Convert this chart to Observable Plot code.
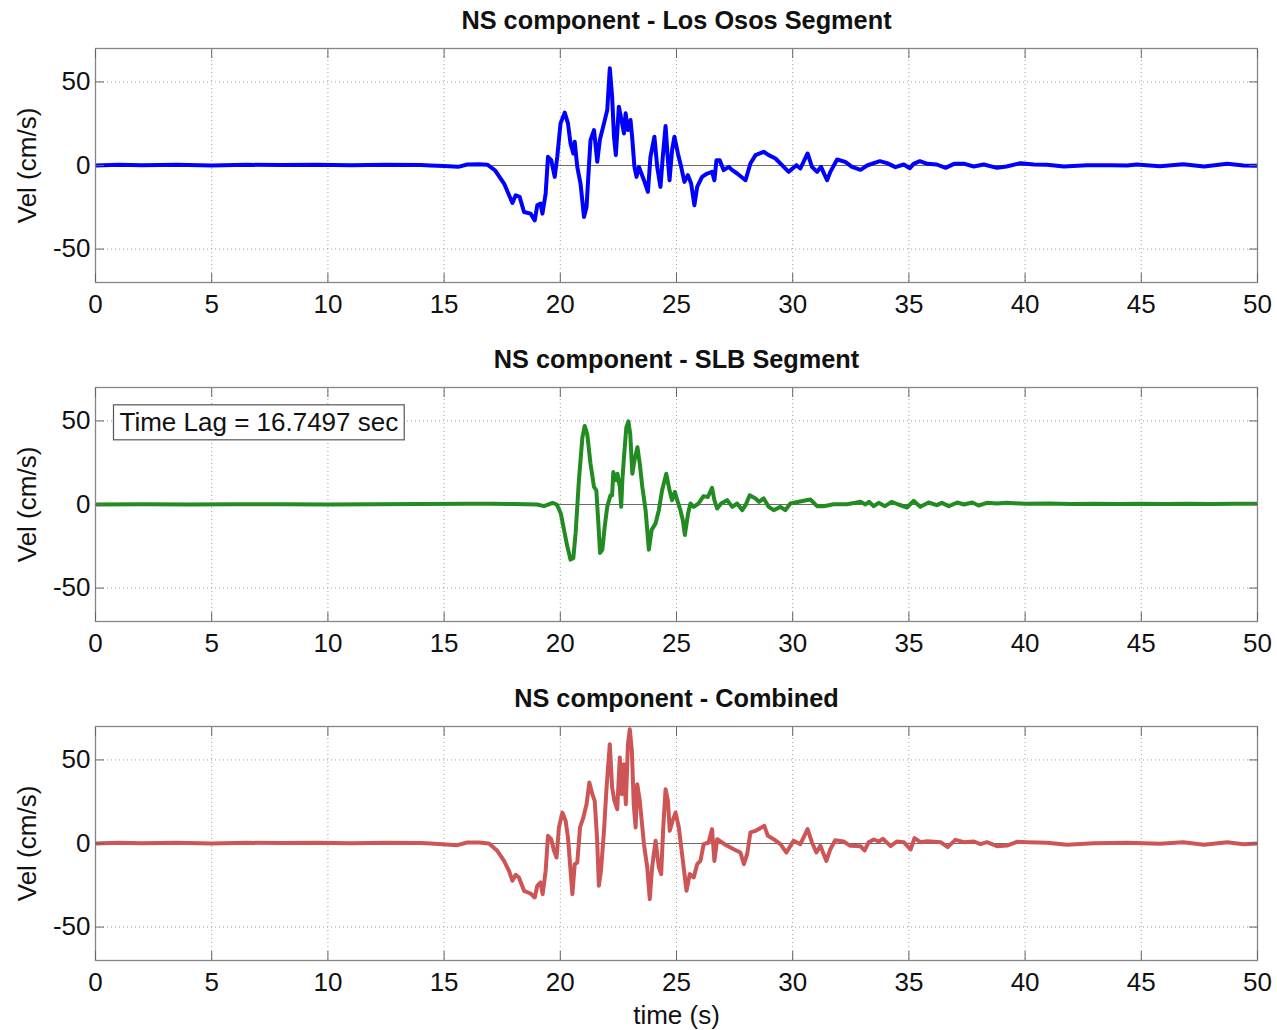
<!DOCTYPE html>
<html>
<head>
<meta charset="utf-8">
<script src="https://cdn.jsdelivr.net/npm/d3@7"></script>
<script src="https://cdn.jsdelivr.net/npm/@observablehq/plot@0.6"></script>
<style>
  body { margin: 0; background: #fff; }
  #chart { width: 1277px; }
  #chart svg { display: block; }
</style>
</head>
<body>
<div id="chart"></div>
<script>
// ---- Data ----
const timeTicks = [0, 5, 10, 15, 20, 25, 30, 35, 40, 45, 50];
const velTicks = [-50, 0, 50];
const panelTitles = ["NS component - Los Osos Segment", "NS component - SLB Segment", "NS component - Combined"];
const timeLagLabel = "Time Lag = 16.7497 sec";
const xLabel = "time (s)";
const yLabel = "Vel (cm/s)";

// [time (s), velocity (cm/s)]
const losOsos = [[0,0],[1,0.4],[2,0.2],[3.5,0.5],[5,0],[6.5,0.4],[8,0.3],[9.5,0.5],[11,0.2],[12.5,0.5],[14,0.3],[14.4,0],[15,-0.3],[15.6,-0.8],[16,0.6],[16.5,0.8],[16.86,0.5],[17.2,-3],[17.58,-10.8],[17.94,-22.4],[18.08,-17.8],[18.25,-18.8],[18.44,-27.8],[18.72,-28.8],[18.9,-32.8],[19.01,-23.8],[19.15,-22.8],[19.23,-28.8],[19.37,-16.8],[19.47,5.2],[19.61,3.2],[19.76,-6.8],[19.87,5.2],[20.01,25.2],[20.19,31.6],[20.33,25.2],[20.44,13.2],[20.56,7.2],[20.62,14.2],[20.73,-0.8],[20.87,-10.8],[21.02,-30.8],[21.13,-24.8],[21.23,-0.8],[21.3,15.2],[21.45,21.2],[21.59,2.2],[21.7,15.2],[21.88,25.2],[22.02,33.2],[22.13,58.2],[22.23,41.2],[22.31,17.2],[22.39,6.2],[22.52,35.2],[22.62,28.2],[22.74,19.2],[22.81,31.2],[22.91,21.2],[23.02,27.2],[23.09,17.2],[23.19,-0.8],[23.28,-6.8],[23.38,-0.8],[23.6,-8.8],[23.77,-15.8],[23.88,5.2],[24.05,17.2],[24.17,-0.8],[24.31,-12.8],[24.41,5.2],[24.53,23.6],[24.62,5.2],[24.7,-8.8],[24.81,9.2],[24.91,17.2],[25.06,7.2],[25.2,-0.8],[25.34,-9.8],[25.49,-5.8],[25.63,-10.8],[25.77,-23.8],[25.89,-12.8],[26.1,-6.8],[26.32,-4.8],[26.53,-3.8],[26.63,-8.8],[26.72,3.2],[26.86,3.2],[27.03,-2.8],[27.25,-0.8],[27.4,-2.8],[27.61,-4.8],[27.97,-8.8],[28.18,1.2],[28.4,6.2],[28.75,8.2],[28.97,6.2],[29.26,4.2],[29.54,0.2],[29.83,-3.8],[30.16,0.2],[30.33,-1.8],[30.64,7.2],[30.83,-0.8],[31.05,-3.8],[31.22,-0.8],[31.48,-8.8],[31.62,-3.8],[31.91,3.6],[32.26,2.2],[32.55,-0.8],[32.92,-2.6],[33.2,0],[33.49,1.4],[33.75,2.6],[34.06,1.4],[34.42,-1],[34.78,0.6],[35.04,-1.6],[35.2,1],[35.47,2.6],[35.79,1],[36.2,0.6],[36.58,-1.4],[36.94,1],[37.4,1],[37.79,-0.6],[38.22,0.6],[38.79,-1.4],[39.2,-0.6],[39.8,1.4],[40.38,0.6],[40.95,0.4],[41.67,-0.6],[42.67,0.2],[43.7,0.2],[44.4,0],[44.8,0.6],[45.8,-0.4],[46.8,0.8],[47.7,-0.6],[48.7,1],[49.4,0],[50,-0.2]];

const slb = [[0,0],[2,0.1],[4,0],[6,0.2],[8,0.1],[10,0],[12,0.2],[14,0.3],[16,0.5],[17,0.5],[18,0.3],[19,0],[19.3,-1],[19.67,1],[19.85,0],[20.02,-5.3],[20.16,-15.2],[20.3,-25],[20.44,-33],[20.56,-32],[20.66,-17],[20.8,14.4],[20.95,40],[21.05,47],[21.16,42],[21.3,24.4],[21.45,10.5],[21.55,8.5],[21.63,-9.3],[21.71,-29],[21.81,-27],[21.91,-13.3],[22.02,-1.4],[22.16,5.5],[22.23,5.5],[22.28,19.4],[22.39,14.5],[22.46,18.4],[22.56,10.5],[22.62,-1.4],[22.67,14.4],[22.74,28.3],[22.84,46],[22.93,49.7],[23.01,42],[23.1,18.4],[23.19,26.3],[23.32,34.3],[23.42,24.4],[23.53,10.5],[23.67,-3.4],[23.81,-27],[23.93,-15.2],[24.1,-11.3],[24.24,-3.4],[24.38,8.5],[24.56,18.4],[24.7,8.5],[24.81,2.6],[24.93,7.5],[25.03,2.6],[25.17,-3.4],[25.27,-9.3],[25.36,-18.2],[25.5,-5.3],[25.6,0.6],[25.74,-1.4],[25.95,0.6],[26.16,5],[26.35,4.5],[26.53,10],[26.63,2.6],[26.75,-2.4],[26.92,0.6],[27.18,2.6],[27.4,-1.4],[27.61,0.6],[27.83,-3.4],[27.97,-0.4],[28.15,5.5],[28.4,3.6],[28.55,1.6],[28.75,3.6],[28.97,-1.4],[29.18,-3.4],[29.47,-1.4],[29.68,-3.4],[29.9,0.6],[30.26,1.6],[30.76,3],[31.05,-1],[31.33,-1],[31.76,0.2],[32.33,0.2],[32.7,1],[32.92,1.6],[33.13,0],[33.28,1.6],[33.49,-1],[33.7,1],[33.97,-1],[34.26,1.6],[34.55,0],[34.92,-1.8],[35.2,2.2],[35.49,-1.4],[35.85,1.2],[36.2,-0.4],[36.42,1],[36.72,-1],[37.08,1.2],[37.37,0],[37.73,1.2],[38.0,-0.6],[38.36,1],[38.79,0.6],[39.2,1],[40,0.4],[41,0.6],[42,0.3],[43,0.5],[44,0.3],[45,0.5],[46,0.3],[47,0.5],[48,0.3],[49,0.5],[50,0.4]];

const combined = [[0,0],[1,0.4],[2,0.2],[3.5,0.5],[5,0],[6.5,0.4],[8,0.3],[9.5,0.5],[11,0.2],[12.5,0.5],[14,0.3],[14.43,0],[15.57,-1],[16,0.6],[16.5,0.6],[16.93,0],[17.29,-4.4],[17.58,-10.4],[17.79,-16.3],[17.94,-22.3],[18.08,-18.7],[18.22,-20.3],[18.44,-28.3],[18.72,-29.9],[18.9,-32.3],[19.01,-25.3],[19.15,-23.3],[19.24,-30.3],[19.37,-16.3],[19.47,4.6],[19.61,2.6],[19.73,-4.4],[19.84,-8.4],[19.94,9.6],[20.09,18.5],[20.23,13.5],[20.33,3.6],[20.42,-12.4],[20.52,-30.3],[20.62,-12.4],[20.73,-11.4],[20.85,9.6],[20.99,15.5],[21.13,23.5],[21.25,36.5],[21.38,29.5],[21.48,25.5],[21.58,3.6],[21.66,-25.3],[21.75,-16.3],[21.88,7.6],[21.99,33.5],[22.13,59.4],[22.23,33.5],[22.33,25.5],[22.45,20.5],[22.56,51.4],[22.65,29.5],[22.73,47.4],[22.82,23.5],[22.91,59.4],[22.99,68.3],[23.08,55.4],[23.16,23.5],[23.24,9.6],[23.31,35.5],[23.42,25.5],[23.6,-0.4],[23.74,-14.3],[23.85,-33.3],[23.95,-14.3],[24.1,1.6],[24.24,-14.3],[24.34,-18.3],[24.43,9.6],[24.53,32.5],[24.63,25.5],[24.71,7.6],[24.83,13.5],[24.96,18.5],[25.1,9.6],[25.24,-6.4],[25.43,-28.3],[25.57,-18.3],[25.74,-20.3],[25.89,-12.4],[26.03,-10.4],[26.17,-0.4],[26.38,0.6],[26.53,8.6],[26.63,-10.4],[26.75,2.6],[26.96,0.6],[27.18,-1.4],[27.46,-3.4],[27.75,-5.4],[27.9,-12.4],[28.04,-6.4],[28.18,6.6],[28.4,7.6],[28.61,9.2],[28.78,10.6],[28.93,4.6],[29.18,2.6],[29.47,-0.4],[29.73,-5.4],[30.04,1.6],[30.33,-0.4],[30.64,8.6],[30.83,0.6],[31.02,-5.4],[31.19,-1.4],[31.45,-10.4],[31.62,-3.4],[31.83,2],[32.19,1.2],[32.48,-1.4],[32.92,-1.6],[33.09,-4.2],[33.27,0.8],[33.49,2.4],[33.7,1.2],[33.89,2.8],[34.21,-1.6],[34.49,1.2],[34.78,0.8],[35.07,-3.6],[35.24,3.2],[35.5,0.8],[35.79,1.4],[36.36,0.8],[36.67,-2.2],[37.0,2.2],[37.37,0.8],[37.8,1.2],[38.08,-0.4],[38.36,0.8],[38.79,-1.6],[39.22,-1.2],[39.65,1],[40.08,0.8],[40.94,0.4],[41.8,-0.8],[42.95,0.2],[44.4,0.4],[45.8,-0.2],[46.8,0.8],[47.7,-0.8],[48.7,0.8],[49.4,-0.4],[50,0]];

const seriesData = [losOsos, slb, combined];
const seriesColors = ["#0000ff", "#228b22", "#cd5555"];

// ---- Drawing ----
const FONT = "'Liberation Sans', Arial, Helvetica, sans-serif";
const chart = document.getElementById("chart");
const plain = d => String(d);

seriesData.forEach((series, i) => {
  const last = i === seriesData.length - 1;
  const rows = series.map(([t, v]) => ({t, v}));
  const marks = [
    Plot.gridX(timeTicks, {stroke: "#a0a0a0", strokeOpacity: 1, strokeDasharray: "1,3"}),
    Plot.gridY(velTicks, {stroke: "#a0a0a0", strokeOpacity: 1, strokeDasharray: "1,3"}),
    Plot.ruleY([0], {stroke: "#6a6a6a", strokeWidth: 1.2}),
    Plot.line(rows, {x: "t", y: "v", stroke: seriesColors[i], strokeWidth: 4, strokeLinejoin: "round", clip: true}),
    Plot.frame({stroke: "#858585", strokeWidth: 1.3}),
    // inward ticks on all four sides
    Plot.axisX(timeTicks, {anchor: "bottom", tickSize: -9, tickFormat: () => "", label: null, stroke: "#666"}),
    Plot.axisX(timeTicks, {anchor: "top", tickSize: -9, tickFormat: () => "", label: null, stroke: "#666"}),
    Plot.axisY(velTicks, {anchor: "left", tickSize: -9, tickFormat: () => "", label: null, stroke: "#666"}),
    Plot.axisY(velTicks, {anchor: "right", tickSize: -9, tickFormat: () => "", label: null, stroke: "#666"}),
    // tick labels
    Plot.axisX(timeTicks, {anchor: "bottom", tickSize: 0, tickPadding: 12, fontSize: 26, fill: "#111", label: null, tickFormat: plain}),
    Plot.axisY(velTicks, {anchor: "left", tickSize: 0, tickPadding: 5, fontSize: 26, fill: "#111", label: null, tickFormat: plain}),
    // titles
    Plot.text([panelTitles[i]], {frameAnchor: "top", dy: -28, fontSize: 25.3, fontWeight: "bold", fill: "#111", lineAnchor: "middle"}),
    Plot.text([yLabel], {frameAnchor: "left", dx: -68, rotate: -90, fontSize: 26, fill: "#111", textAnchor: "middle", lineAnchor: "middle"})
  ];
  if (last) {
    marks.push(Plot.text([xLabel], {frameAnchor: "bottom", dy: 55, fontSize: 26, fill: "#111", lineAnchor: "middle"}));
  }
  if (i === 1) {
    marks.push(Plot.text([timeLagLabel], {frameAnchor: "top-left", dx: 24, dy: 35, fontSize: 26, fill: "#111", textAnchor: "start", lineAnchor: "middle"}));
  }
  const svg = Plot.plot({
    width: 1277,
    height: last ? 352 : 339,
    marginLeft: 95,
    marginRight: 20,
    marginTop: 48,
    marginBottom: last ? 70 : 57,
    x: {domain: [0, 50]},
    y: {domain: [-70, 70]},
    style: {fontFamily: FONT, background: "white", color: "#111", overflow: "visible"},
    marks
  });
  chart.appendChild(svg);
  if (i === 1) {
    // white box with border behind the Time Lag annotation
    d3.select(svg).selectAll("text").each(function () {
      if (this.textContent === timeLagLabel) {
        const b = this.getBBox();
        const g = this.parentNode;
        const rect = document.createElementNS("http://www.w3.org/2000/svg", "rect");
        rect.setAttribute("x", b.x - 6);
        rect.setAttribute("y", b.y - 2);
        rect.setAttribute("width", b.width + 12);
        rect.setAttribute("height", b.height + 5);
        rect.setAttribute("fill", "white");
        rect.setAttribute("stroke", "#555");
        rect.setAttribute("stroke-width", "1.2");
        const tf = this.getAttribute("transform");
        if (tf) rect.setAttribute("transform", tf);
        g.insertBefore(rect, this);
      }
    });
  }
});
</script>
</body>
</html>
